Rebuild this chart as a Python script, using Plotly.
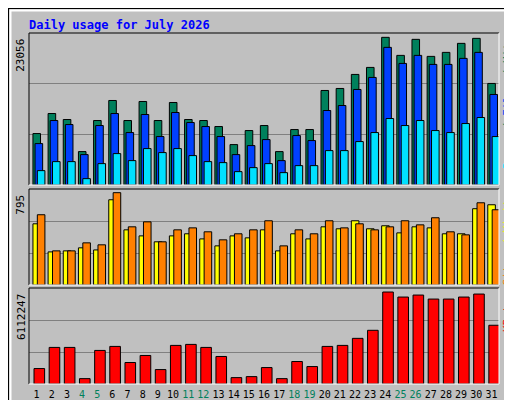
import plotly.graph_objects as go

days = list(range(1, 32))
hits = [8033,11162,10223,5216,10067,13196,10067,13040,10067,12884,10223,10067,9128,6311,8502,9284,5216,8659,8659,14761,15074,17265,18360,23056,20238,22742,20082,20708,22116,22898,15857]
files = [6468,10067,9441,4747,9284,11162,8189,11006,7563,11319,9754,9128,7563,4747,6155,7094,3808,7720,6937,11632,12414,14918,16796,21490,18986,20238,18830,18830,19769,20708,14135]
pages = [2243,3651,3651,991,3338,4903,3808,5685,5060,5685,4590,3651,3495,2086,2712,3338,1930,3025,3025,5372,5372,6781,8189,10380,9284,10067,8502,8189,9597,10536,7563]
sites = [527,285,294,320,302,734,475,423,372,423,441,397,337,423,406,475,294,441,397,501,484,553,484,510,449,501,492,441,441,657,691]
visits = [605,294,294,363,346,795,501,544,372,475,492,458,389,441,475,553,337,475,441,553,492,527,475,501,553,518,579,458,432,708,648]
kbytes = [1026000,2431000,2431000,357000,2231000,2498000,1428000,1896000,959000,2565000,2632000,2431000,1829000,424000,491000,1093000,357000,1495000,1160000,2498000,2565000,3034000,3569000,6112247,5778000,5911000,5644000,5644000,5778000,5978000,3904000]
weekend = [4,5,11,12,18,19,25,26]

GREEN, BLUE, CYAN = "#00805C", "#0040FF", "#00E0FF"
YEL, ORA, RED = "#FFFF00", "#FF8000", "#FF0000"
BG = "#C0C0C0"
FONT = "DejaVu Sans Mono"

fig = go.Figure()
def bar(y, color, off, w, ax):
    fig.add_trace(go.Bar(x=days, y=y, marker=dict(color=color, line=dict(color="black", width=1)),
                         offset=off, width=w, xaxis="x", yaxis=ax, hoverinfo="skip", cliponaxis=True))

bar(hits, GREEN, -0.24, 0.5, "y")
bar(files, BLUE, -0.1, 0.5, "y")
bar(pages, CYAN, 0.05, 0.5, "y")
bar(sites, YEL, -0.24, 0.5, "y2")
bar(visits, ORA, 0.05, 0.5, "y2")
bar(kbytes, RED, -0.17, 0.7, "y3")

x0, x1 = 21/512, 491/512
doms = {"yaxis": (1-177/400, 1-25/400), "yaxis2": (1-277/400, 1-181/400), "yaxis3": (1-376/400, 1-280/400)}
maxes = {"yaxis": (max(hits), 455/442), "yaxis2": (max(visits), 287/276), "yaxis3": (max(kbytes), 286/274)}

layout = dict(width=512, height=400, margin=dict(l=0, r=0, t=0, b=0, autoexpand=False),
              paper_bgcolor=BG, plot_bgcolor=BG, showlegend=False, barmode="overlay",
              xaxis=dict(domain=[x0, x1], range=[0.5, 31.5], anchor="y3", automargin=False,
                         tickvals=days, tickangle=0,
                         ticktext=[f'<span style="color:{GREEN}">{d}</span>' if d in weekend else str(d) for d in days],
                         tickfont=dict(family=FONT, size=10, color="black"), ticks="", showgrid=False,
                         zeroline=False, showline=False, ticklabelstandoff=3))
for name, (a, b) in doms.items():
    m, f = maxes[name]
    r = m * f
    layout[name] = dict(domain=[a, b], range=[0, r], tickvals=[r/3, 2*r/3], showticklabels=False,
                        gridcolor="#808080", gridwidth=1, zeroline=False, showline=False, ticks="",
                        anchor="x", automargin=False)
fig.update_layout(**layout)

shapes = []
shapes.append(dict(type="rect", xref="paper", yref="paper", x0=0, x1=1, y0=0, y1=1, line=dict(color="black", width=2)))
shapes.append(dict(type="line", xref="paper", yref="paper", x0=2/512, x1=508/512, y0=1-2.5/400, y1=1-2.5/400, line=dict(color="white", width=2)))
shapes.append(dict(type="line", xref="paper", yref="paper", x0=2.5/512, x1=2.5/512, y0=4/400, y1=1-2/400, line=dict(color="white", width=2)))
shapes.append(dict(type="line", xref="paper", yref="paper", x0=2/512, x1=510/512, y0=3/400, y1=3/400, line=dict(color="#808080", width=3)))
shapes.append(dict(type="line", xref="paper", yref="paper", x0=508.5/512, x1=508.5/512, y0=2/400, y1=1-2/400, line=dict(color="#808080", width=3)))
for name, (a, b) in doms.items():
    shapes.append(dict(type="line", xref="paper", yref="paper", x0=x0, x1=x1, y0=b, y1=b, line=dict(color="black", width=1)))
    shapes.append(dict(type="line", xref="paper", yref="paper", x0=x0, x1=x0, y0=a, y1=b, line=dict(color="black", width=1)))
    shapes.append(dict(type="line", xref="paper", yref="paper", x0=x0, x1=x1, y0=a, y1=a, line=dict(color="white", width=1)))
    shapes.append(dict(type="line", xref="paper", yref="paper", x0=x1, x1=x1, y0=a, y1=b, line=dict(color="white", width=1)))
fig.update_layout(shapes=shapes)

ann = []
ann.append(dict(text="<b>Daily usage for July 2026</b>", x=19/512, y=1-8/400, xref="paper", yref="paper",
                xanchor="left", yanchor="top", showarrow=False, font=dict(family=FONT, size=12, color="#0000FF")))
for name, ax, lab in [("yaxis", "y", "23056"), ("yaxis2", "y2", "795"), ("yaxis3", "y3", "6112247")]:
    m, f = maxes[name]
    ann.append(dict(text=lab, x=13/512, xref="paper", y=m, yref=ax, yanchor="top", xanchor="center",
                    textangle=-90, showarrow=False, font=dict(family=FONT, size=11, color="black")))
right = [
    ("yaxis", f'<span style="color:{CYAN}">Pages</span><span style="color:{GREEN}"> / </span><span style="color:{BLUE}">Files</span><span style="color:{GREEN}"> / Hits</span>'),
    ("yaxis2", f'<span style="color:{ORA}">Sites</span><span style="color:{YEL}"> / Visits</span>'),
    ("yaxis3", f'<span style="color:{RED}">KBytes</span>'),
]
for name, txt in right:
    a, b = doms[name]
    ann.append(dict(text=txt, x=499/512, xref="paper", y=b - 2/400, yref="paper", yanchor="top", xanchor="center",
                    textangle=-90, showarrow=False, font=dict(family=FONT, size=11)))
fig.update_layout(annotations=ann)

fig.write_html("out.html")
